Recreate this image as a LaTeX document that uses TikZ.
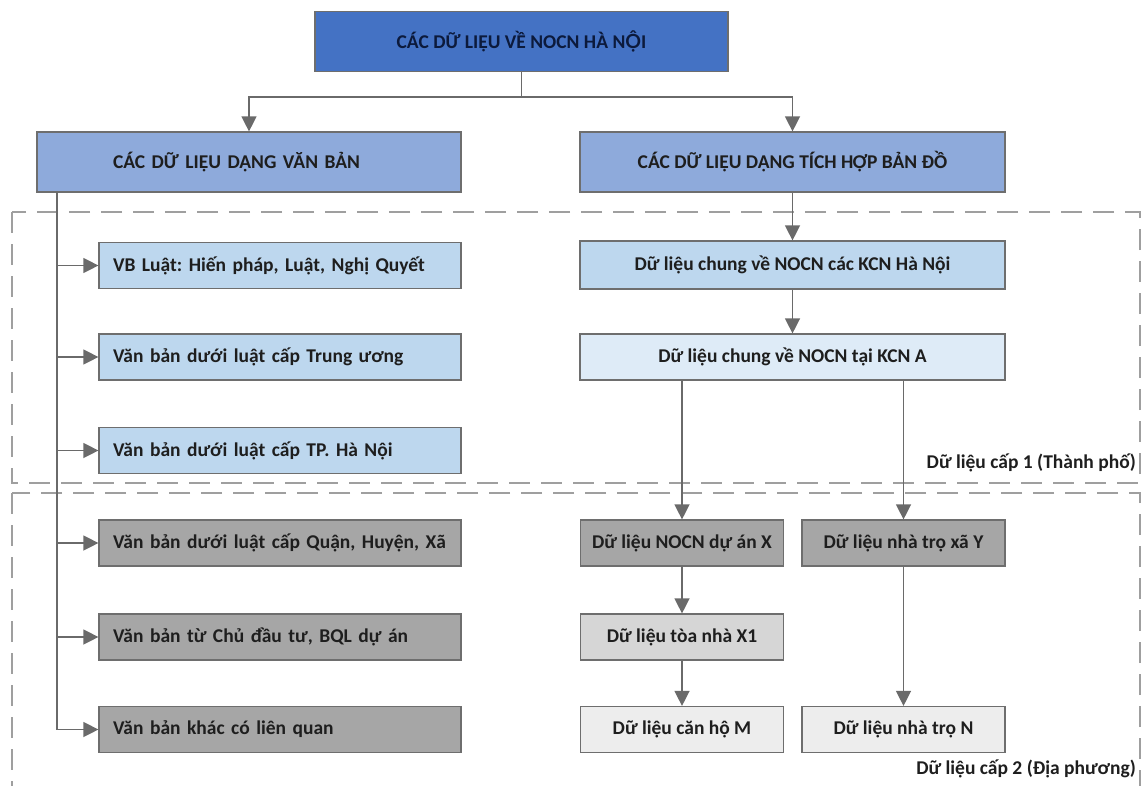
\documentclass[tikz,border=0pt]{standalone}
\usepackage{fontspec}
\setmainfont{Carlito}
\newfontfamily\latofont{Lato}
\usepackage{tikz}
\usetikzlibrary{arrows.meta,positioning,calc}
\frenchspacing

\definecolor{topblue}{HTML}{4472C4}
\definecolor{midblue}{HTML}{8EAADB}
\definecolor{lightblue}{HTML}{BDD7EE}
\definecolor{paleblue}{HTML}{DEEBF7}
\definecolor{darkgray}{HTML}{A6A6A6}
\definecolor{midgray}{HTML}{D6D6D6}
\definecolor{palegray}{HTML}{EDEDED}
\definecolor{edgegray}{HTML}{6E6E6E}
\definecolor{linkgray}{HTML}{6A6A6A}
\definecolor{inkdark}{HTML}{1E1E1E}
\definecolor{inknavy}{HTML}{0C1A3C}

\begin{document}
\begin{tikzpicture}[
    x=1pt, y=-1pt,
    box/.style={draw=edgegray, line width=1.2pt, align=center,
                font=\fontsize{19.5}{23}\selectfont\bfseries, text=inkdark,
                inner sep=0pt, minimum height=46pt},
    head/.style={box, minimum height=60pt},
    leftbox/.style={box, minimum width=362pt, text width=334pt, align=left},
    wide/.style={box, minimum width=425pt},
    half/.style={box, minimum width=203pt},
    region/.style={draw=gray!75, line width=1.3pt, dash pattern=on 21pt off 11pt},
    flow/.style={-{Triangle[length=15pt,width=15pt]}, draw=linkgray, line width=1.3pt},
    link/.style={draw=linkgray, line width=1.3pt},
    tag/.style={font=\fontsize{19.5}{23}\selectfont\bfseries, text=inkdark,
                anchor=east, inner sep=0pt},
  ]
    \clip (0,0) rectangle (1142,785);

    % ---- level regions ----
    \draw[region] (12,212) rectangle (1140,483);
    \draw[region] (12,493) rectangle (1140,830);

    % ---- top and headers ----
    \node[head, fill=topblue, minimum width=413pt, text=inknavy] (top) at (521.5,41.5)
        {CÁC DỮ LIỆU VỀ NOCN HÀ N{\latofont\bfseries Ộ}I};
    \node[head, fill=midblue, minimum width=424pt, text width=272pt, align=left] (lhead) at (249,162)
        {CÁC DỮ LIỆU DẠNG VĂN BẢN};
    \node[head, fill=midblue, minimum width=425pt] (rhead) at (792.5,162)
        {CÁC DỮ LIỆU DẠNG TÍCH HỢP BẢN ĐỒ};

    % ---- left column: documents ----
    \node[leftbox, fill=lightblue] (l1) at (280,265.5) {VB Luật: Hiến pháp, Luật, Nghị Quyết};
    \node[leftbox, fill=lightblue] (l2) at (280,357)   {Văn bản dưới luật cấp Trung ương};
    \node[leftbox, fill=lightblue] (l3) at (280,450.5) {Văn bản dưới luật cấp TP. Hà Nội};
    \node[leftbox, fill=darkgray]  (l4) at (280,543)   {Văn bản dưới luật cấp Quận, Huyện, Xã};
    \node[leftbox, fill=darkgray]  (l5) at (280,637)   {Văn bản từ Chủ đầu tư, BQL dự án};
    \node[leftbox, fill=darkgray]  (l6) at (280,729.5) {Văn bản khác có liên quan};

    % ---- right column: map data ----
    \node[wide, fill=lightblue, minimum height=48pt] (ra) at (792.5,265) {Dữ liệu chung về NOCN các KCN Hà Nội};
    \node[wide, fill=paleblue] (rb) at (792.5,357) {Dữ liệu chung về NOCN tại KCN A};
    \node[half, fill=darkgray] (rx)  at (682,543)   {Dữ liệu NOCN dự án X};
    \node[half, fill=darkgray] (ry)  at (903.5,543) {Dữ liệu nhà trọ xã Y};
    \node[half, fill=midgray]  (rx1) at (682,637)   {Dữ liệu tòa nhà X1};
    \node[half, fill=palegray] (rm)  at (682,729.5) {Dữ liệu căn hộ M};
    \node[half, fill=palegray] (rn)  at (903.5,729.5) {Dữ liệu nhà trọ N};

    % ---- region labels ----
    \node[tag] (tag1) at (1136,463) {Dữ liệu cấp 1 (Thành phố)};
    \node[tag] (tag2) at (1136,769) {Dữ liệu cấp 2 (Địa phương)};

    % ---- connectors ----
    \draw[flow] (top.south) -- ++(0,25) -| (lhead.north);
    \draw[flow] (top.south) -- ++(0,25) -| (rhead.north);

    \coordinate (bus) at (57,192);
    \draw[link] (bus) -- (bus |- l6.west);
    \foreach \i in {1,...,6}
      \draw[flow] (bus |- l\i.west) -- (l\i.west);

    \draw[flow] (rhead) -- (ra);
    \draw[flow] (ra) -- (rb);
    \draw[flow] (rb.south -| rx.north) -- (rx.north);
    \draw[flow] (rb.south -| ry.north) -- (ry.north);
    \draw[flow] (rx) -- (rx1);
    \draw[flow] (rx1) -- (rm);
    \draw[flow] (ry) -- (rn);
\end{tikzpicture}
\end{document}
